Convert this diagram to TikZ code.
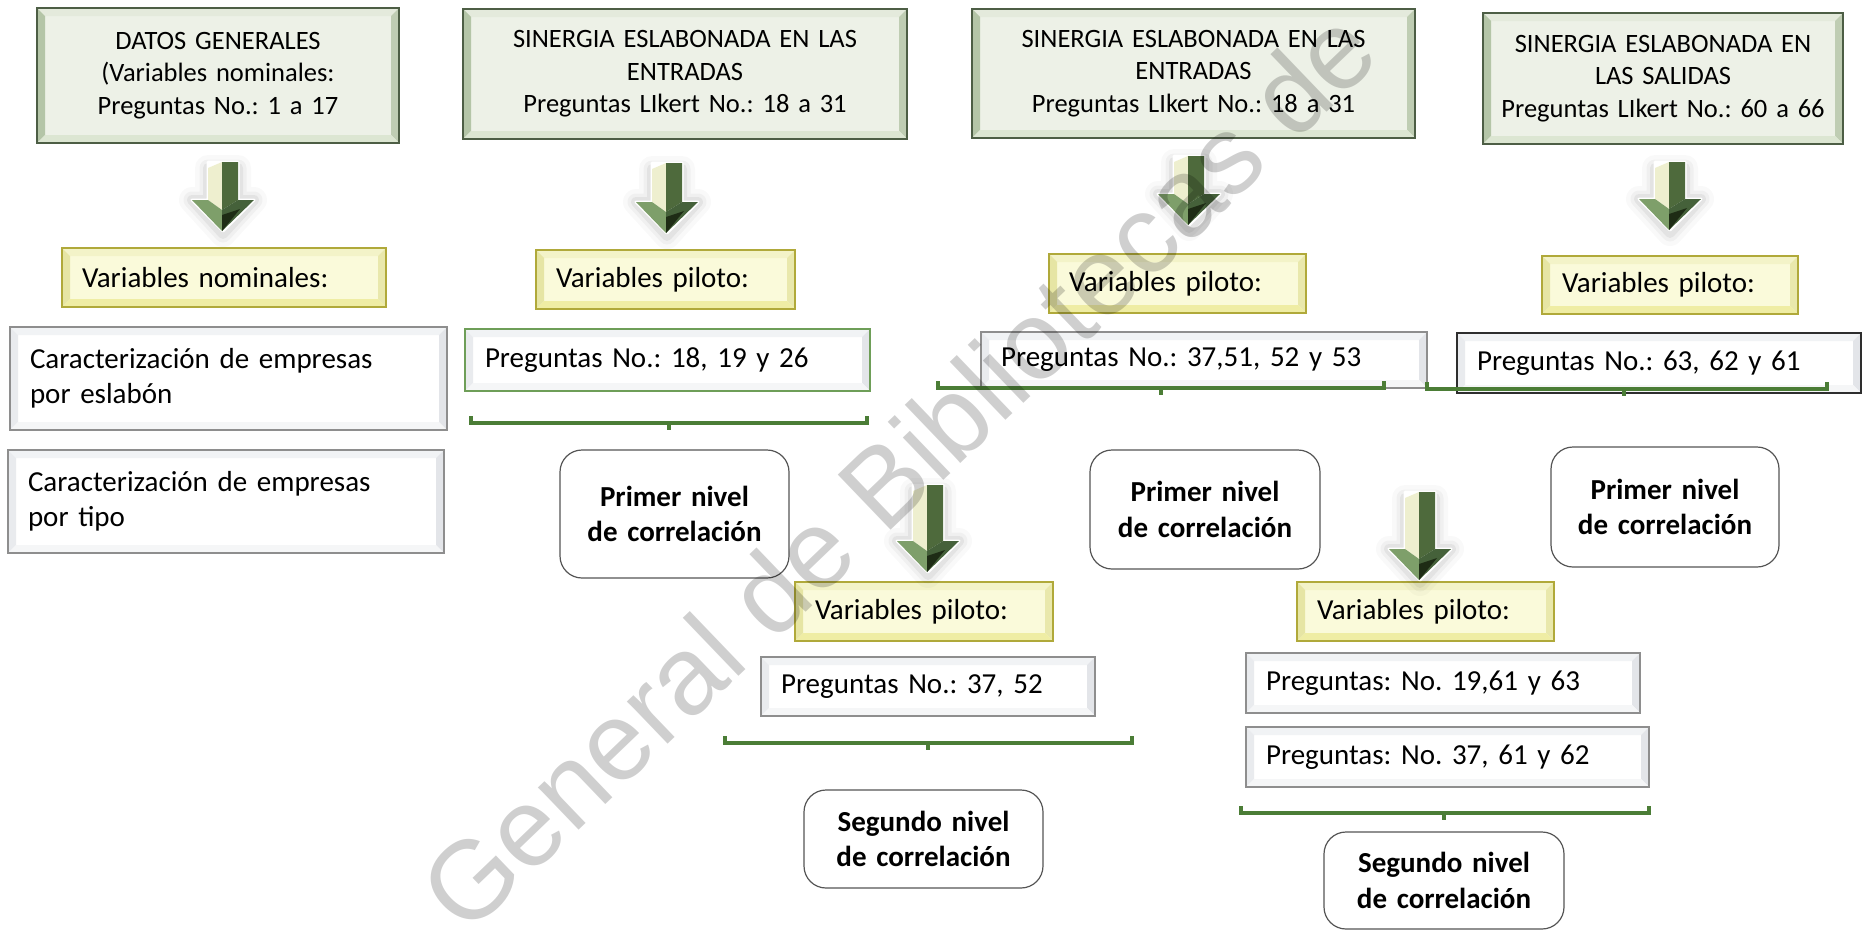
\documentclass[tikz,border=0pt]{standalone}
\usepackage{fontspec}
\setmainfont{Carlito}
\newfontfamily\wmfont{Liberation Sans}
\usetikzlibrary{calc}
\frenchspacing
\definecolor{tface}{HTML}{EDF1E7}\definecolor{tbord}{HTML}{4D5E45}
\definecolor{ttop}{HTML}{E4EADC}\definecolor{tleft}{HTML}{B4C5A7}
\definecolor{tright}{HTML}{BFCDB3}\definecolor{tbot}{HTML}{DCE6D2}
\definecolor{yface}{HTML}{FAFADA}\definecolor{ybord}{HTML}{B0A93A}
\definecolor{ytop}{HTML}{F3F3C8}\definecolor{yleft}{HTML}{E6E5A4}
\definecolor{yright}{HTML}{E9E8AC}\definecolor{ybot}{HTML}{EFEDA4}
\definecolor{wface}{HTML}{FFFFFF}\definecolor{wbord}{HTML}{8E8E8E}
\definecolor{wtop}{HTML}{F1F3F5}\definecolor{wleft}{HTML}{E9EBEE}
\definecolor{wright}{HTML}{E3E5E9}\definecolor{wbot}{HTML}{F5F6F7}
\definecolor{gbord}{HTML}{6E9E58}\definecolor{dbord}{HTML}{2E2E2E}
\definecolor{rbord}{HTML}{555555}\definecolor{brk}{HTML}{4B7D36}
\definecolor{acream}{HTML}{EEEFCF}\definecolor{adark}{HTML}{4E6A3C}
\definecolor{ahl}{HTML}{7E9F6A}\definecolor{ahr}{HTML}{45613A}
\definecolor{ahd}{HTML}{1E2C15}
\tikzset{
  bev/.style n args={4}{path picture={
    \fill[#1] (path picture bounding box.north west) -- (path picture bounding box.north east) -- ([shift={(-8,8)}]path picture bounding box.north east) -- ([shift={(8,8)}]path picture bounding box.north west) -- cycle;
    \fill[#2] (path picture bounding box.north west) -- ([shift={(8,8)}]path picture bounding box.north west) -- ([shift={(8,-8)}]path picture bounding box.south west) -- (path picture bounding box.south west) -- cycle;
    \fill[#3] (path picture bounding box.north east) -- ([shift={(-8,8)}]path picture bounding box.north east) -- ([shift={(-8,-8)}]path picture bounding box.south east) -- (path picture bounding box.south east) -- cycle;
    \fill[#4] (path picture bounding box.south west) -- ([shift={(8,-8)}]path picture bounding box.south west) -- ([shift={(-8,-8)}]path picture bounding box.south east) -- (path picture bounding box.south east) -- cycle;
  }},
  tbox/.style={draw=tbord, line width=1.3pt, fill=tface, bev={ttop}{tleft}{tright}{tbot},
    align=center, inner xsep=10pt, inner ysep=0pt, font=\fontsize{26.5}{32.5}\selectfont},
  ybox/.style={draw=ybord, line width=1.2pt, fill=yface, bev={ytop}{yleft}{yright}{ybot},
    align=left, inner xsep=20pt, inner ysep=0pt, font=\fontsize{29}{35.5}\selectfont},
  wbox/.style={draw=wbord, line width=1.2pt, fill=wface, bev={wtop}{wleft}{wright}{wbot},
    align=left, inner xsep=20pt, inner ysep=0pt, font=\fontsize{29}{35.5}\selectfont},
  rbox/.style={draw=rbord, line width=1.2pt, fill=white, rounded corners=22pt,
    align=center, inner xsep=10pt, inner ysep=0pt, font=\fontsize{29}{35.5}\selectfont\bfseries},
  brace/.style={draw=brk, line width=3.5pt},
  wm/.style={font=\wmfont\fontsize{111}{111}\selectfont, text=black, text opacity=0.19, inner sep=0pt}
}
% style, name, x1, y1, x2, y2, text
\newcommand\boxnode[7]{%
  \pgfmathsetmacro\bnW{#5-#3}\pgfmathsetmacro\bnH{#6-#4}%
  \pgfmathsetmacro\bnT{#5-#3-40}%
  \node[#1, minimum width=\bnW pt, minimum height=\bnH pt, text width=\bnT pt] (#2) at ({(#3+#5)/2},{(#4+#6)/2}) {#7};}
\newcommand\rnode[7]{%
  \pgfmathsetmacro\bnW{#5-#3}\pgfmathsetmacro\bnH{#6-#4}%
  \pgfmathsetmacro\bnT{#5-#3-20}%
  \node[#1, minimum width=\bnW pt, minimum height=\bnH pt, text width=\bnT pt] (#2) at ({(#3+#5)/2},{(#4+#6)/2}) {#7};}
% bracket: x1, x2, y, xmid
\newcommand\bracketat[4]{%
  \draw[brace] (#1,#3-7) -- (#1,#3) -- (#2,#3) -- (#2,#3-7);
  \draw[brace] (#4,#3) -- (#4,#3+7);}
% 3D arrow: cx, top, bottom
\newcommand\garrow[3]{%
  \pgfmathsetmacro\gaC{#1}\pgfmathsetmacro\gaT{#2}\pgfmathsetmacro\gaB{#3}\pgfmathsetmacro\gaH{#3-31}%
  \foreach \gw/\go in {26/0.025,17/0.035,10/0.05}{%
    \draw[line width=\gw pt, black, opacity=\go, line join=round] (\gaC-15,\gaT+6) -- (\gaC+15,\gaT+6) -- (\gaC+15,\gaH) -- (\gaC+31,\gaH) -- (\gaC,\gaB+3) -- (\gaC-31,\gaH) -- (\gaC-15,\gaH) -- cycle;}
  \draw[white, fill=white, line width=3pt, line join=round] (\gaC-15,\gaT) -- (\gaC+15,\gaT) -- (\gaC+15,\gaH) -- (\gaC+31,\gaH) -- (\gaC,\gaB) -- (\gaC-31,\gaH) -- (\gaC-15,\gaH) -- cycle;
  \fill[acream] (\gaC-15,\gaT+6) -- (\gaC-1,\gaT) -- (\gaC-1,\gaH+10) -- (\gaC-15,\gaH) -- cycle;
  \fill[adark] (\gaC-1,\gaT) -- (\gaC+15,\gaT) -- (\gaC+15,\gaH) -- (\gaC-1,\gaH+10) -- cycle;
  \fill[ahl] (\gaC-31,\gaH) -- (\gaC-15,\gaH) -- (\gaC-1,\gaH+10) -- (\gaC-1,\gaB) -- cycle;
  \fill[ahr] (\gaC-1,\gaH+10) -- (\gaC+15,\gaH) -- (\gaC+31,\gaH) -- (\gaC-1,\gaB) -- cycle;
  \fill[ahd] (\gaC-1,\gaH+15) -- (\gaC+17,\gaH+9) -- (\gaC-1,\gaB) -- cycle;}
\begin{document}
\begin{tikzpicture}[x=1pt,y=-1pt]
\useasboundingbox[fill=white] (0,0) rectangle (1865,932);
% top boxes
\rnode{tbox}{t1}{37}{8}{399}{143}{DATOS GENERALES\\(Variables nominales:\\Preguntas No.: 1 a 17}
\rnode{tbox}{t2}{463}{9}{907}{139}{SINERGIA ESLABONADA EN LAS\\ENTRADAS\\Preguntas LIkert No.: 18 a 31}
\rnode{tbox}{t3}{972}{9}{1415}{138}{SINERGIA ESLABONADA EN LAS\\ENTRADAS\\Preguntas LIkert No.: 18 a 31}
\rnode{tbox}{t4}{1483}{13}{1843}{144}{SINERGIA ESLABONADA EN\\LAS SALIDAS\\Preguntas LIkert No.: 60 a 66}
% yellow boxes
\boxnode{ybox}{v1}{62}{248}{386}{307}{Variables nominales:}
\boxnode{ybox}{v2}{536}{250}{795}{309}{Variables piloto:}
\boxnode{ybox}{v3}{1049}{254}{1306}{313}{Variables piloto:}
\boxnode{ybox}{v4}{1542}{256}{1798}{314}{Variables piloto:}
\boxnode{ybox}{v5}{795}{582}{1053}{641}{Variables piloto:}
\boxnode{ybox}{v6}{1297}{582}{1554}{641}{Variables piloto:}
% white boxes
\boxnode{wbox}{w1}{10}{327}{447}{430}{Caracterización de empresas\\por eslabón}
\boxnode{wbox}{w2}{8}{450}{444}{553}{Caracterización de empresas\\por tipo}
\boxnode{wbox,draw=gbord}{w3}{465}{329}{870}{391}{Preguntas No.: 18, 19 y 26}
\boxnode{wbox}{w4}{981}{332}{1427}{388}{Preguntas No.: 37,51, 52 y 53}
\boxnode{wbox,draw=dbord,line width=2pt}{w5}{1457}{333}{1861}{393}{Preguntas No.: 63, 62 y 61}
\boxnode{wbox}{w6}{761}{657}{1095}{716}{Preguntas No.: 37, 52}
\boxnode{wbox}{w7}{1246}{653}{1640}{713}{Preguntas: No. 19,61 y 63}
\boxnode{wbox}{w8}{1246}{727}{1649}{787}{Preguntas: No. 37, 61 y 62}
% rounded boxes
\rnode{rbox}{r1}{560}{450}{789}{578}{Primer nivel\\de correlación}
\rnode{rbox}{r2}{1090}{450}{1320}{569}{Primer nivel\\de correlación}
\rnode{rbox}{r3}{1551}{447}{1779}{567}{Primer nivel\\de correlación}
\rnode{rbox}{s1}{804}{790}{1043}{888}{Segundo nivel\\de correlación}
\rnode{rbox}{s2}{1324}{832}{1564}{929}{Segundo nivel\\de correlación}
% brackets
\bracketat{471}{867}{423}{669}
\bracketat{938}{1384}{388}{1161}
\bracketat{1427}{1827}{389}{1624}
\bracketat{725}{1132}{743}{928}
\bracketat{1241}{1649}{813}{1444}
% arrows
\garrow{223}{162}{231}
\garrow{667}{163}{233}
\garrow{1189}{156}{225}
\garrow{1670}{162}{230}
\garrow{928}{485}{572}
\garrow{1420}{492}{580}
% watermark
\begin{scope}
\clip (0,0) rectangle (1865,932);
\node[wm, rotate=43.8, anchor=base west] (wmark) at (466,938) {General de Bibliotecas de};
\end{scope}
\end{tikzpicture}
\end{document}
